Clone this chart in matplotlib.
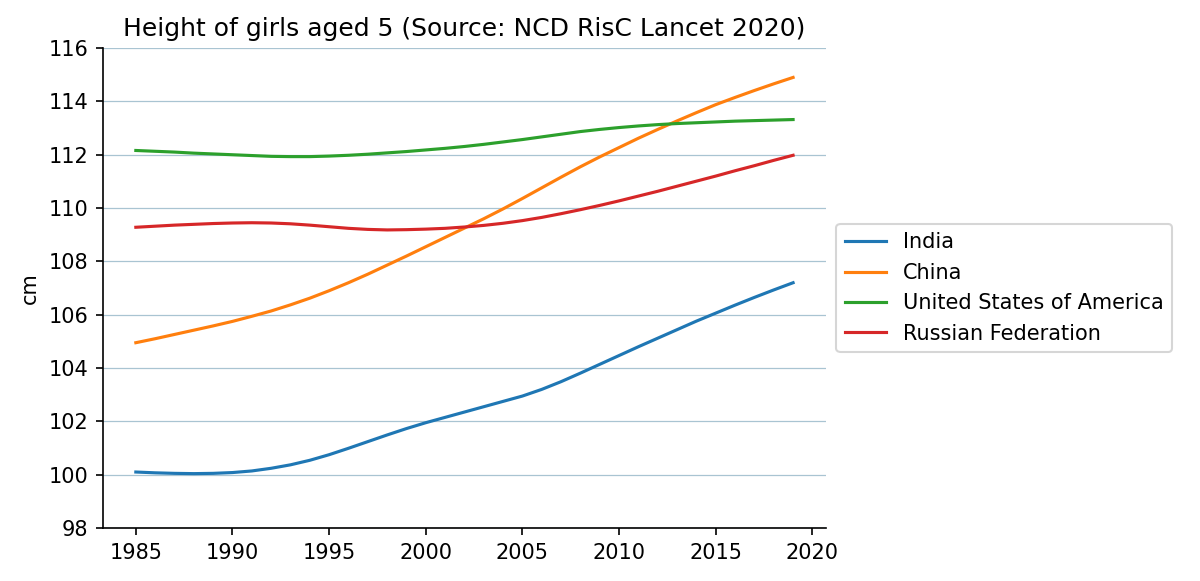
import numpy as np
import matplotlib
matplotlib.use("Agg")
import matplotlib.pyplot as plt

years = np.arange(1985, 2020)

india = [100.10, 100.07, 100.05, 100.04, 100.05, 100.08, 100.14, 100.24, 100.37, 100.54,
         100.75, 100.99, 101.24, 101.49, 101.73, 101.95, 102.15, 102.35, 102.55, 102.75,
         102.95, 103.20, 103.49, 103.81, 104.14, 104.47, 104.80, 105.12, 105.44, 105.76,
         106.06, 106.36, 106.65, 106.93, 107.20]
china = [104.95, 105.10, 105.26, 105.42, 105.58, 105.75, 105.94, 106.14, 106.37, 106.62,
         106.90, 107.20, 107.52, 107.86, 108.20, 108.55, 108.90, 109.25, 109.60, 109.97,
         110.36, 110.76, 111.16, 111.55, 111.92, 112.27, 112.62, 112.95, 113.27, 113.58,
         113.88, 114.15, 114.41, 114.66, 114.90]
usa = [112.16, 112.13, 112.10, 112.06, 112.03, 112.00, 111.97, 111.94, 111.93, 111.93,
       111.95, 111.98, 112.02, 112.07, 112.12, 112.18, 112.24, 112.31, 112.39, 112.48,
       112.57, 112.67, 112.77, 112.87, 112.95, 113.02, 113.08, 113.13, 113.17, 113.20,
       113.23, 113.26, 113.28, 113.30, 113.32]
russia = [109.28, 109.32, 109.36, 109.39, 109.42, 109.44, 109.45, 109.44, 109.41, 109.36,
          109.30, 109.24, 109.20, 109.18, 109.19, 109.21, 109.24, 109.29, 109.35, 109.43,
          109.53, 109.65, 109.79, 109.94, 110.10, 110.27, 110.45, 110.63, 110.82, 111.01,
          111.20, 111.40, 111.59, 111.79, 111.98]

countries = ["India", "China", "United States of America", "Russian Federation"]
series = [india, china, usa, russia]

# 8 x 3.873 in at 150 dpi -> 1200 x 581 px
fig = plt.figure(figsize=(8, 3.8734), dpi=150)
ax = fig.add_axes([0.0858, 0.0912, 0.6025, 0.826])

for name, vals in zip(countries, series):
    ax.plot(years, vals, label=name)

ax.set_ylim(98, 116)
ax.set_yticks(np.arange(98, 117, 2))
ax.set_xticks(np.arange(1985, 2021, 5))
ax.set_xlim(1983.3, 2020.7)
ax.grid(axis='y', color='#a9c4d2', lw=0.6)
ax.set_axisbelow(True)
ax.spines['top'].set_visible(False)
ax.spines['right'].set_visible(False)
ax.set_ylabel("cm")
ax.set_title("Height of girls aged 5 (Source: NCD RisC Lancet 2020)")
ax.legend(loc='center left', bbox_to_anchor=(1.0, 0.5))

fig.savefig("out.png", dpi=150)
